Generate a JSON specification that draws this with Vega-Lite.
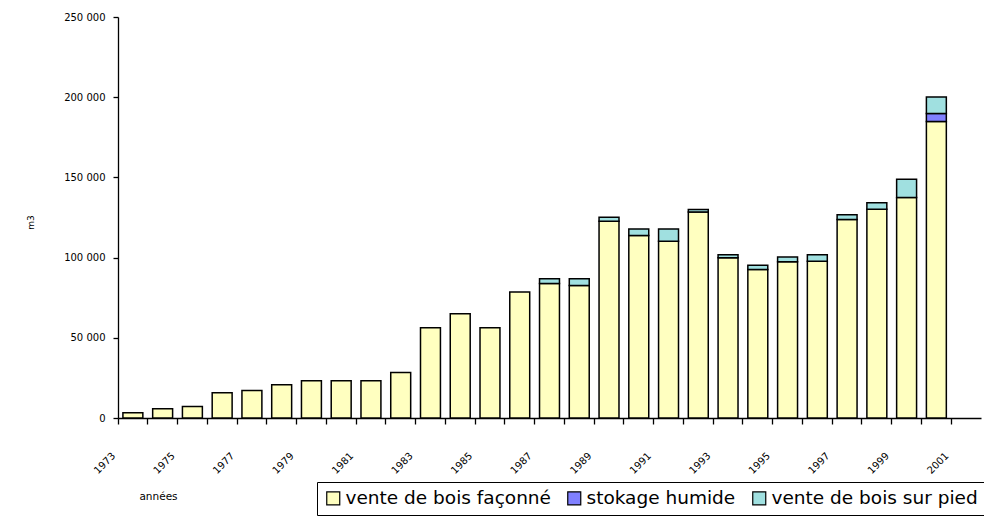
{
  "$schema": "https://vega.github.io/schema/vega-lite/v6.json",
  "width": 863,
  "height": 401,
  "autosize": {"type": "none"},
  "padding": {"left": 118, "top": 17, "right": 3, "bottom": 99},
  "background": "white",
  "config": {"view": {"stroke": null}, "font": "DejaVu Sans"},
  "data": {
    "values": [
      {"annee": 1973, "type": "vente de bois façonné", "m3": 3200},
      {"annee": 1974, "type": "vente de bois façonné", "m3": 5800},
      {"annee": 1975, "type": "vente de bois façonné", "m3": 7100},
      {"annee": 1976, "type": "vente de bois façonné", "m3": 15700},
      {"annee": 1977, "type": "vente de bois façonné", "m3": 17200},
      {"annee": 1978, "type": "vente de bois façonné", "m3": 20700},
      {"annee": 1979, "type": "vente de bois façonné", "m3": 23200},
      {"annee": 1980, "type": "vente de bois façonné", "m3": 23200},
      {"annee": 1981, "type": "vente de bois façonné", "m3": 23200},
      {"annee": 1982, "type": "vente de bois façonné", "m3": 28300},
      {"annee": 1983, "type": "vente de bois façonné", "m3": 56200},
      {"annee": 1984, "type": "vente de bois façonné", "m3": 65000},
      {"annee": 1985, "type": "vente de bois façonné", "m3": 56200},
      {"annee": 1986, "type": "vente de bois façonné", "m3": 78500},
      {"annee": 1987, "type": "vente de bois façonné", "m3": 83800},
      {"annee": 1987, "type": "vente de bois sur pied", "m3": 3000},
      {"annee": 1988, "type": "vente de bois façonné", "m3": 82600},
      {"annee": 1988, "type": "vente de bois sur pied", "m3": 4200},
      {"annee": 1989, "type": "vente de bois façonné", "m3": 122700},
      {"annee": 1989, "type": "vente de bois sur pied", "m3": 2500},
      {"annee": 1990, "type": "vente de bois façonné", "m3": 113800},
      {"annee": 1990, "type": "vente de bois sur pied", "m3": 4100},
      {"annee": 1991, "type": "vente de bois façonné", "m3": 110200},
      {"annee": 1991, "type": "vente de bois sur pied", "m3": 7700},
      {"annee": 1992, "type": "vente de bois façonné", "m3": 128500},
      {"annee": 1992, "type": "vente de bois sur pied", "m3": 1500},
      {"annee": 1993, "type": "vente de bois façonné", "m3": 99900},
      {"annee": 1993, "type": "vente de bois sur pied", "m3": 1800},
      {"annee": 1994, "type": "vente de bois façonné", "m3": 92600},
      {"annee": 1994, "type": "vente de bois sur pied", "m3": 2700},
      {"annee": 1995, "type": "vente de bois façonné", "m3": 97400},
      {"annee": 1995, "type": "vente de bois sur pied", "m3": 2900},
      {"annee": 1996, "type": "vente de bois façonné", "m3": 97700},
      {"annee": 1996, "type": "vente de bois sur pied", "m3": 4000},
      {"annee": 1997, "type": "vente de bois façonné", "m3": 123700},
      {"annee": 1997, "type": "vente de bois sur pied", "m3": 3000},
      {"annee": 1998, "type": "vente de bois façonné", "m3": 130200},
      {"annee": 1998, "type": "vente de bois sur pied", "m3": 4000},
      {"annee": 1999, "type": "vente de bois façonné", "m3": 137500},
      {"annee": 1999, "type": "vente de bois sur pied", "m3": 11400},
      {"annee": 2000, "type": "vente de bois façonné", "m3": 184800},
      {"annee": 2000, "type": "stokage humide", "m3": 5000},
      {"annee": 2000, "type": "vente de bois sur pied", "m3": 10400}
    ]
  },
  "transform": [
    {"calculate": "indexof(['vente de bois façonné', 'stokage humide', 'vente de bois sur pied'], datum.type)", "as": "rang"}
  ],
  "mark": {"type": "bar", "stroke": "black", "strokeWidth": 1.5, "width": {"band": 0.67}},
  "encoding": {
    "x": {
      "field": "annee",
      "type": "ordinal",
      "scale": {
        "domain": [1973,1974,1975,1976,1977,1978,1979,1980,1981,1982,1983,1984,1985,1986,1987,1988,1989,1990,1991,1992,1993,1994,1995,1996,1997,1998,1999,2000,2001],
        "paddingInner": 0,
        "paddingOuter": 0
      },
      "axis": {
        "title": "années",
        "bandPosition": 0,
        "labelAngle": -45,
        "labelAlign": "right",
        "labelBaseline": "middle",
        "labelPadding": 30,
        "labelOffset": -19,
        "labelExpr": "datum.value % 2 == 1 ? datum.label : ''",
        "labelFontSize": 10,
        "labelColor": "black",
        "tickSize": 6,
        "tickColor": "black",
        "tickWidth": 1.3,
        "domainColor": "black",
        "domainWidth": 1.3,
        "titleFontSize": 10.5,
        "titleFontWeight": "normal",
        "titleColor": "black",
        "titleX": 40,
        "titleY": 78,
        "titleAlign": "center",
        "titleBaseline": "middle"
      }
    },
    "y": {
      "field": "m3",
      "type": "quantitative",
      "stack": "zero",
      "scale": {"domain": [0, 250000]},
      "axis": {
        "title": "m3",
        "values": [0, 50000, 100000, 150000, 200000, 250000],
        "grid": false,
        "labelExpr": "replace(format(datum.value, ','), ',', ' ')",
        "labelFontSize": 10,
        "labelColor": "black",
        "labelPadding": 8,
        "tickSize": 5,
        "tickColor": "black",
        "tickWidth": 1.3,
        "domainColor": "black",
        "domainWidth": 1.3,
        "titleFontSize": 9,
        "titleFontWeight": "normal",
        "titleColor": "black",
        "titleX": -88,
        "titleY": 205,
        "titleAlign": "center",
        "titleBaseline": "middle"
      }
    },
    "order": {"field": "rang", "type": "quantitative"},
    "color": {
      "field": "type",
      "type": "nominal",
      "sort": ["vente de bois façonné", "stokage humide", "vente de bois sur pied"],
      "scale": {
        "domain": ["vente de bois façonné", "stokage humide", "vente de bois sur pied"],
        "range": ["#FFFFC0", "#8080FF", "#A0E0E0"]
      },
      "legend": {
        "orient": "none",
        "legendX": 199,
        "legendY": 465,
        "direction": "horizontal",
        "title": null,
        "strokeColor": "black",
        "fillColor": "white",
        "padding": 7,
        "symbolType": "square",
        "symbolSize": 169,
        "symbolStrokeColor": "black",
        "symbolStrokeWidth": 1.2,
        "symbolOpacity": 1,
        "labelFontSize": 18.5,
        "labelColor": "black",
        "labelOffset": 3,
        "labelLimit": 400,
        "columnPadding": 14
      }
    }
  }
}
